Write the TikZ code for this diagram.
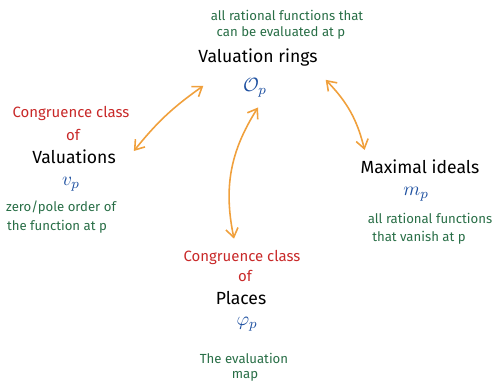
\documentclass[tikz,border=0pt]{standalone}
\usepackage{amsmath}
\usepackage{fontspec}
\setmainfont{Fira Sans}
\usetikzlibrary{positioning,arrows.meta,calc}
\definecolor{carrot}{RGB}{240,160,60}
\definecolor{brick}{RGB}{200,40,40}
\definecolor{pine}{RGB}{40,110,70}
\definecolor{ink}{RGB}{30,80,160}

\begin{document}
\begin{tikzpicture}[>={Straight Barb[length=5pt,width=7pt]},
    title/.style={font=\fontsize{10}{12}\selectfont,inner sep=1pt},
    cong/.style={text=brick,font=\fontsize{8.5}{10}\selectfont,inner sep=1pt},
    sym/.style={text=ink,font=\fontsize{11}{13}\selectfont,inner sep=1pt},
    note/.style={text=pine,font=\fontsize{7.5}{9}\selectfont,inner sep=1pt},
    link/.style={<->,draw=carrot,line width=0.9pt}]
    \useasboundingbox (0,0) rectangle (9.98,-7.68);
    % top: valuation rings
    \node[note] (top1) at (5.74,-0.30) {all rational functions that};
    \node[note] (top2) at (5.62,-0.66) {can be evaluated at p};
    \node[title] (rings) at (5.16,-1.16) {Valuation rings};
    \node[sym] (op) at (5.10,-1.76) {$\mathcal{O}_p$};
    % left: valuations
    \node[cong] (lcong) at (1.42,-2.26) {Congruence class};
    \node[cong] (lof) at (1.46,-2.70) {of};
    \node[title] (val) at (1.48,-3.14) {Valuations};
    \node[sym] (vp) at (1.42,-3.68) {$v_p$};
    \node[note] (lz1) at (1.22,-4.16) {zero/pole order of};
    \node[note] (lz2) at (1.14,-4.54) {the function at p};
    % right: maximal ideals
    \node[title] (max) at (8.40,-3.34) {Maximal ideals};
    \node[sym] (mp) at (8.32,-3.88) {$m_p$};
    \node[note] (rz1) at (8.60,-4.36) {all rational functions};
    \node[note] (rz2) at (8.38,-4.76) {that vanish at p};
    % bottom: places
    \node[cong] (bcong) at (4.84,-5.14) {Congruence class};
    \node[cong] (bof) at (4.90,-5.52) {of};
    \node[title] (places) at (4.82,-5.96) {Places};
    \node[sym] (phi) at (4.94,-6.48) {$\varphi_p$};
    \node[note] (ev1) at (4.88,-7.16) {The evaluation};
    \node[note] (ev2) at (4.90,-7.52) {map};
    % links
    \draw[link] ($(val.east)+(0.32,0.12)$) to[bend left=8] ($(rings.south west)+(0.14,-0.34)$);
    \draw[link] ($(op.south)+(0.06,-0.16)$) to[bend right=22] ($(bcong.north)+(-0.16,0.18)$);
    \draw[link] ($(rings.south east)+(0.12,-0.22)$) to[bend left=15] ($(max.north west)+(0.12,0.16)$);
\end{tikzpicture}
\end{document}
